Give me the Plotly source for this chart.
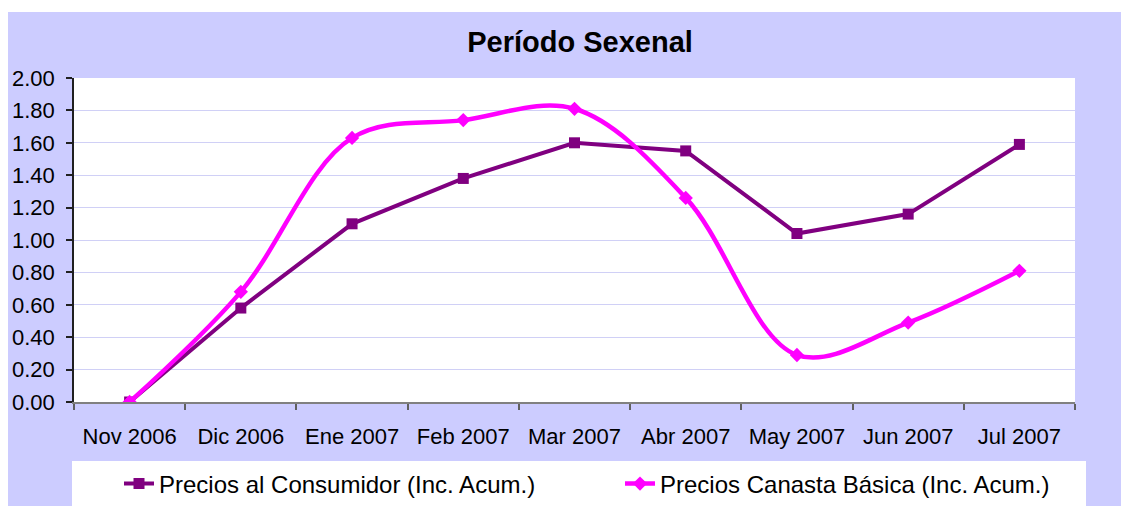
import plotly.graph_objects as go

categories = ["Nov 2006", "Dic 2006", "Ene 2007", "Feb 2007", "Mar 2007",
              "Abr 2007", "May 2007", "Jun 2007", "Jul 2007"]
consumidor = [0.00, 0.58, 1.10, 1.38, 1.60, 1.55, 1.04, 1.16, 1.59]
canasta = [0.00, 0.68, 1.63, 1.74, 1.81, 1.26, 0.29, 0.49, 0.81]
y_ticks = [0.0, 0.2, 0.4, 0.6, 0.8, 1.0, 1.2, 1.4, 1.6, 1.8, 2.0]
y_tick_labels = [f"{v:.2f}" for v in y_ticks]

# figure is placed by the page at an offset of 8px (body margin)
OFF = 8
W, H = 1129 - OFF, 508 - OFF
ML, MT = 74 - OFF, 78 - OFF
MR = W - (1075 - OFF)
MB = H - (402 - OFF)
pw, ph = W - ML - MR, H - MT - MB

def px_x(x):  # page x -> paper fraction
    return (x - OFF - ML) / pw

def px_y(y):  # page y -> paper fraction
    return (H - MB - (y - OFF)) / ph

FONT = "Liberation Sans, Arial, sans-serif"
LAV = "#CCCCFF"

fig = go.Figure()
fig.add_trace(go.Scatter(
    x=categories, y=consumidor, name="Precios al Consumidor (Inc. Acum.)",
    mode="lines+markers", legend="legend",
    line=dict(color="#800080", width=4),
    marker=dict(symbol="square", size=11, color="#800080"),
))
fig.add_trace(go.Scatter(
    x=categories, y=canasta, name="Precios Canasta Básica (Inc. Acum.)",
    mode="lines+markers", legend="legend2",
    line=dict(color="#FF00FF", width=4.5, shape="spline", smoothing=1.0),
    marker=dict(symbol="diamond", size=11, color="#FF00FF"),
))

shapes = [
    dict(type="rect", xref="paper", yref="paper", layer="below",
         x0=px_x(0), x1=px_x(1129), y0=px_y(0), y1=px_y(12),
         fillcolor="white", line=dict(width=0)),
    dict(type="rect", xref="paper", yref="paper", layer="below",
         x0=px_x(0), x1=px_x(1129), y0=px_y(506), y1=px_y(508),
         fillcolor="white", line=dict(width=0)),
    dict(type="rect", xref="paper", yref="paper", layer="below",
         x0=0, x1=1, y0=0, y1=1,
         fillcolor="white", line=dict(width=0)),
    dict(type="rect", xref="paper", yref="paper", layer="below",
         x0=px_x(72), x1=px_x(1086), y0=px_y(461), y1=px_y(506),
         fillcolor="white", line=dict(width=0)),
]

leg_common = dict(orientation="h", xref="container", yref="container",
                  xanchor="left", y=1 - (484 - OFF) / H, yanchor="middle",
                  bgcolor="rgba(0,0,0,0)", borderwidth=0,
                  font=dict(family=FONT, size=24, color="black"),
                  itemwidth=30)

fig.update_layout(
    width=W, height=H,
    margin=dict(l=ML, r=MR, t=MT, b=MB, pad=0, autoexpand=False),
    paper_bgcolor=LAV,
    plot_bgcolor="white",
    font=dict(family=FONT, size=22, color="black"),
    title=dict(text="<b>Período Sexenal</b>", x=(580 - OFF) / W, xref="container",
               xanchor="center", y=1 - (42 - OFF) / H, yanchor="middle",
               font=dict(family=FONT, size=29, color="black")),
    shapes=shapes,
    showlegend=True,
    legend=dict(x=(119 - OFF) / W, **leg_common),
    legend2=dict(x=(620 - OFF) / W, **leg_common),
    xaxis=dict(
        type="category", categoryorder="array", categoryarray=categories,
        range=[-0.5, len(categories) - 0.5],
        showgrid=False, zeroline=False,
        showline=True, linecolor="#808080", linewidth=1.5,
        ticks="outside", ticklen=6, tickcolor="#606060", tickwidth=1.5,
        tickson="boundaries", ticklabelstandoff=14,
        tickfont=dict(family=FONT, size=22, color="black"),
    ),
    yaxis=dict(
        range=[0, 2.0], tickvals=y_ticks, ticktext=y_tick_labels,
        showgrid=True, gridcolor="#D0D0F6", gridwidth=1.2,
        zeroline=False,
        showline=True, linecolor="#202020", linewidth=1.5,
        ticks="outside", ticklen=6, tickcolor="#202020", tickwidth=1.5,
        ticklabelstandoff=7,
        tickfont=dict(family=FONT, size=22, color="black"),
    ),
)

fig.write_html("out.html")
